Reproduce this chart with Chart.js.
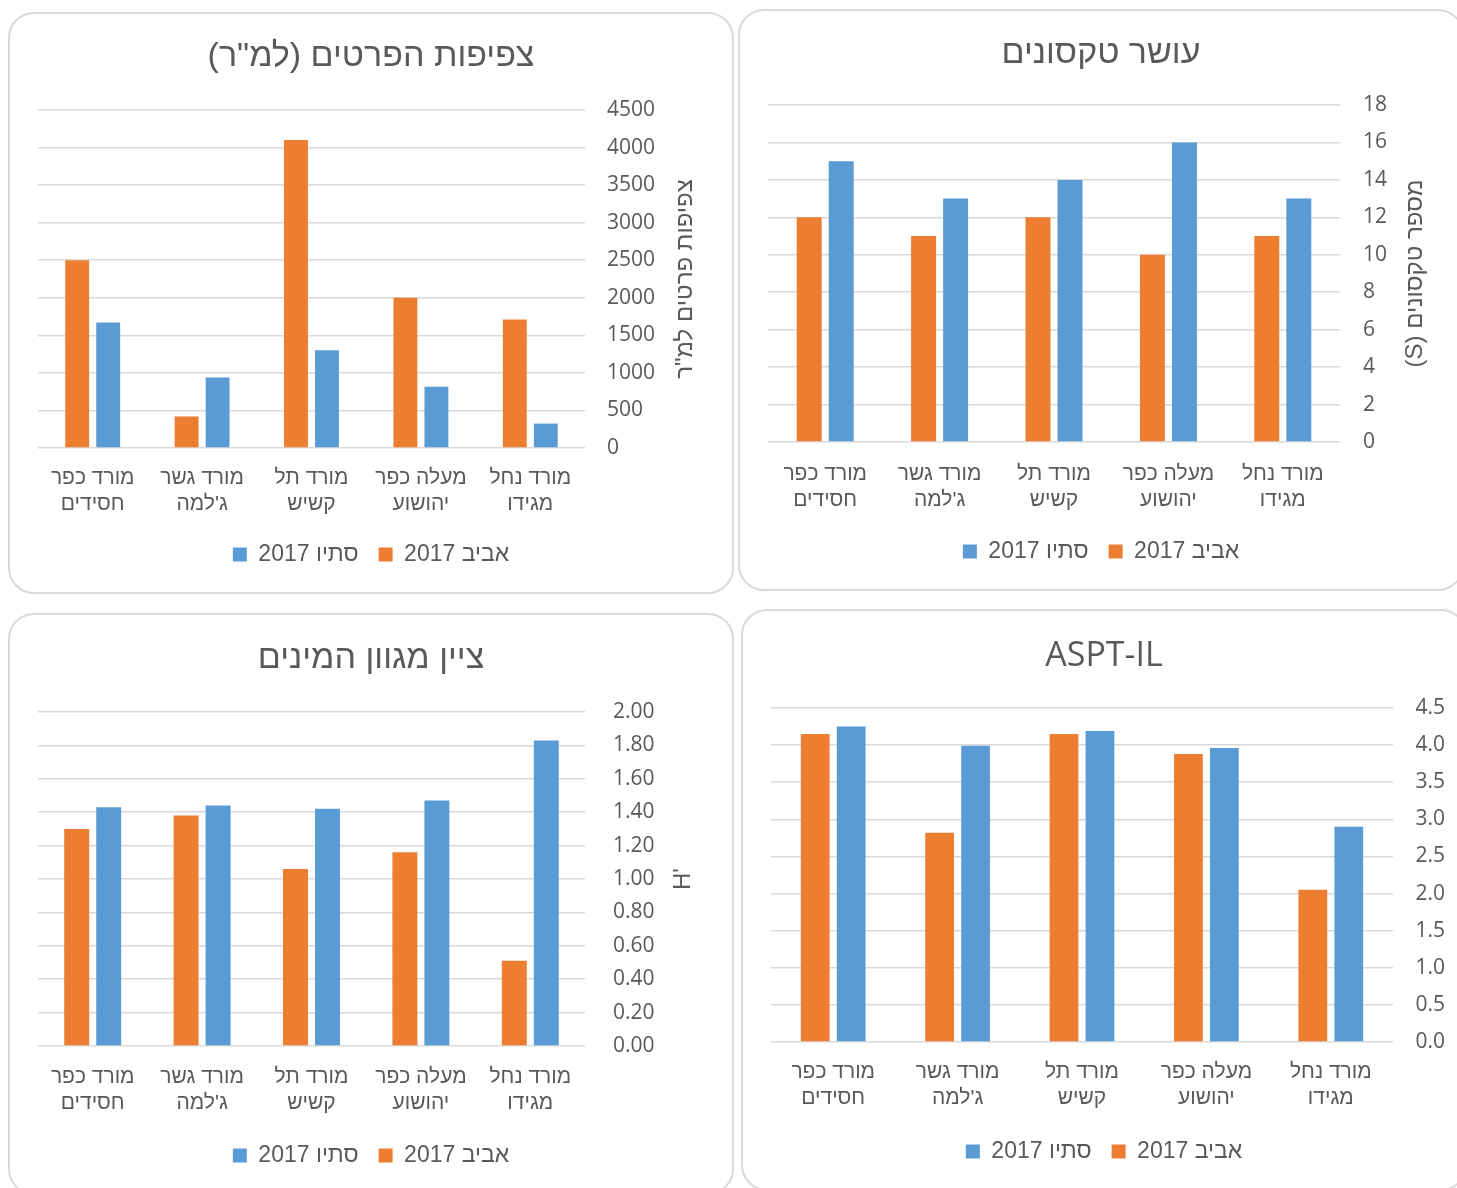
<!DOCTYPE html>
<html lang="he">
<head>
  <meta charset="UTF-8">
  <title>מדדים ביולוגיים 2017</title>
  <script src="https://cdn.jsdelivr.net/npm/chart.js"></script>
  <style>
    body { margin: 0; background: #fff; width: 1457px; height: 1188px; overflow: hidden; position: relative; }
    .panel { position: absolute; width: 726px; height: 582px; border: 2px solid #d9d9d9; border-radius: 26px; box-sizing: border-box; }
    canvas { position: absolute; }
  </style>
</head>
<body>
  <div class="panel" style="left:8px;top:12px"></div>
  <div class="panel" style="left:738px;top:9px"></div>
  <div class="panel" style="left:8px;top:613px"></div>
  <div class="panel" style="left:741px;top:609px"></div>

  <canvas id="density" dir="rtl" width="726" height="582" style="left:8px;top:12px"></canvas>
  <canvas id="taxa" dir="rtl" width="726" height="582" style="left:738px;top:9px"></canvas>
  <canvas id="diversity" dir="rtl" width="726" height="582" style="left:8px;top:613px"></canvas>
  <canvas id="aspt" dir="rtl" width="726" height="582" style="left:741px;top:609px"></canvas>

  <script>
    // sites, left to right as shown
    const categories = [
      ['מורד כפר', 'חסידים'],
      ['מורד גשר', "ג'למה"],
      ['מורד תל', 'קשיש'],
      ['מעלה כפר', 'יהושוע'],
      ['מורד נחל', 'מגידו']
    ];
    const seriesNames = ['אביב 2017', 'סתיו 2017'];
    const seriesColors = ['#ED7D31', '#5B9BD5'];

    const densitySpring = [2500, 420, 4100, 2000, 1710];
    const densityAutumn = [1670, 940, 1300, 815, 325];
    const taxaSpring = [12, 11, 12, 10, 11];
    const taxaAutumn = [15, 13, 14, 16, 13];
    const diversitySpring = [1.30, 1.38, 1.06, 1.16, 0.51];
    const diversityAutumn = [1.43, 1.44, 1.42, 1.47, 1.83];
    const asptSpring = [4.15, 2.82, 4.15, 3.88, 2.05];
    const asptAutumn = [4.25, 3.99, 4.19, 3.96, 2.90];

    const textColor = '#595959';
    const hebFont = '"Liberation Sans", sans-serif';
    const numFont = '"Open Sans", "Liberation Sans", sans-serif';

    const H = 582, W = 726, padBottom = 18;
    const titleSize = 34, catSize = 21, legendSize = 23;
    const legendHeight = legendSize + 20 + 10;

    // y axis title on the right, but reading bottom-to-top like Excel
    const sideTitle = {
      id: 'sideTitle',
      afterDraw(chart, args, opts) {
        if (!opts.text) return;
        const { ctx, chartArea } = chart;
        ctx.save();
        ctx.direction = opts.dir || 'rtl';
        ctx.translate(opts.x, (chartArea.top + chartArea.bottom) / 2);
        ctx.rotate(-Math.PI / 2);
        ctx.font = '24px ' + hebFont;
        ctx.fillStyle = textColor;
        ctx.textAlign = 'center';
        ctx.textBaseline = 'middle';
        ctx.fillText(opts.text, 0, 0);
        ctx.restore();
      }
    };

    function makeChart(id, c) {
      const padRight = 30;
      const titleTop = c.titleY - titleSize * 0.6 + 2;
      return new Chart(document.getElementById(id), {
        type: 'bar',
        data: {
          labels: categories,
          datasets: [
            { label: seriesNames[0], data: c.spring, backgroundColor: seriesColors[0] },
            { label: seriesNames[1], data: c.autumn, backgroundColor: seriesColors[1] }
          ]
        },
        options: {
          responsive: false,
          animation: false,
          datasets: { bar: { categoryPercentage: c.catPct, barPercentage: c.barPct } },
          layout: { padding: { left: 30, right: padRight, top: 0, bottom: padBottom } },
          scales: {
            x: {
              grid: { display: false, drawTicks: false },
              border: { display: false },
              ticks: { color: textColor, font: { size: catSize, family: hebFont, lineHeight: 1.2 }, padding: c.catPad, maxRotation: 0, autoSkip: false },
              afterFit(s) { s.height = H - padBottom - legendHeight - c.plotBottom; }
            },
            y: {
              position: 'right',
              min: 0,
              max: c.max,
              grid: { color: '#d9d9d9', lineWidth: 1.5, drawTicks: false },
              border: { display: false },
              ticks: {
                stepSize: c.step,
                padding: c.tickPad,
                mirror: !!c.mirror,
                color: textColor,
                font: { size: 21, family: numFont },
                callback: v => v.toFixed(c.decimals)
              },
              afterFit(s) { s.width = W - padRight - c.plotRight; }
            }
          },
          plugins: {
            title: {
              display: true,
              text: c.title,
              color: textColor,
              font: { size: titleSize, weight: 'normal', family: c.titleFont || hebFont, lineHeight: 1.2 },
              padding: { top: titleTop, bottom: c.plotTop - titleTop - titleSize * 1.2 }
            },
            legend: {
              position: 'bottom',
              reverse: true,
              labels: { boxWidth: 14, boxHeight: 14, padding: 20, color: textColor, font: { size: legendSize, family: hebFont } }
            },
            tooltip: { enabled: false },
            sideTitle: { text: c.axisTitle, x: c.axisX, dir: c.axisDir }
          }
        },
        plugins: [sideTitle]
      });
    }

    makeChart('density', {
      title: 'צפיפות הפרטים (למ"ר)', spring: densitySpring, autumn: densityAutumn,
      max: 4500, step: 500, decimals: 0, plotRight: 577, tickPad: 22,
      titleY: 43, plotTop: 98, plotBottom: 436, catPad: 18,
      axisTitle: 'צפיפות פרטים למ"ר', axisX: 677, catPct: 0.567, barPct: 0.77
    });
    makeChart('taxa', {
      title: 'עושר טקסונים', spring: taxaSpring, autumn: taxaAutumn,
      max: 18, step: 2, decimals: 0, plotRight: 602, tickPad: 23,
      titleY: 43, plotTop: 96, plotBottom: 433, catPad: 20,
      axisTitle: 'מספר טקסונים (S)', axisX: 677, catPct: 0.56, barPct: 0.78
    });
    makeChart('diversity', {
      title: 'ציין מגוון המינים', spring: diversitySpring, autumn: diversityAutumn,
      max: 2, step: 0.2, decimals: 2, plotRight: 577, tickPad: 28,
      titleY: 44, plotTop: 99, plotBottom: 433, catPad: 19,
      axisTitle: "H'", axisX: 675, axisDir: 'ltr', catPct: 0.585, barPct: 0.78
    });
    // labels are right-aligned via mirror so they are not clipped by the narrow axis box
    makeChart('aspt', {
      title: 'ASPT-IL', titleFont: numFont, spring: asptSpring, autumn: asptAutumn,
      max: 4.5, step: 0.5, decimals: 1, plotRight: 652, tickPad: 52, mirror: true,
      titleY: 45, plotTop: 99, plotBottom: 433, catPad: 18,
      axisTitle: '', axisX: 0, catPct: 0.578, barPct: 0.8
    });
  </script>
</body>
</html>
